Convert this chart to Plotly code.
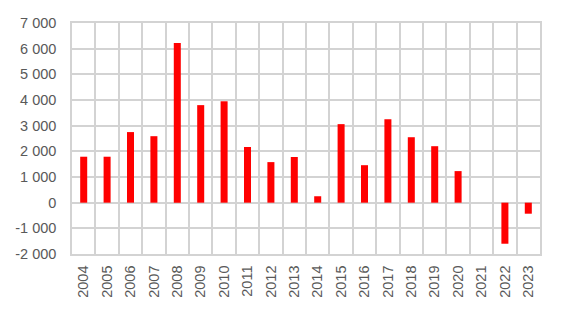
import plotly.graph_objects as go

years = [str(y) for y in range(2004, 2024)]
values = [1790, 1790, 2750, 2590, 6220, 3800, 3950, 2170, 1580, 1780,
          250, 3060, 1460, 3250, 2550, 2200, 1230, 0, -1600, -430]
y_tickvals = [-2000, -1000, 0, 1000, 2000, 3000, 4000, 5000, 6000, 7000]
y_ticktext = ["-2 000", "-1 000", "0", "1 000", "2 000", "3 000", "4 000", "5 000", "6 000", "7 000"]

grid = "#d3d3d3"
font = dict(family="Liberation Sans, Arial, sans-serif", size=14.5, color="#595959")

fig = go.Figure(go.Bar(x=years, y=values, marker=dict(color="#ff0000", line=dict(width=0))))
fig.update_layout(
    width=562, height=312,
    margin=dict(l=72, r=22, t=23, b=58),
    paper_bgcolor="white", plot_bgcolor="white",
    bargap=0.7, showlegend=False, font=font,
)
fig.update_xaxes(
    type="category", tickson="boundaries", showgrid=True, gridcolor=grid, gridwidth=1.5,
    showline=True, linecolor=grid, linewidth=1.5, mirror=True,
    tickangle=-90, ticks="", ticklen=0, ticklabelstandoff=4, tickfont=font,
)
fig.update_yaxes(
    range=[-2000, 7000], tickvals=y_tickvals, ticktext=y_ticktext,
    showgrid=True, gridcolor=grid, gridwidth=1.5,
    zeroline=True, zerolinecolor=grid, zerolinewidth=1.5,
    showline=True, linecolor=grid, linewidth=1.5, mirror=True,
    ticks="", ticklabelstandoff=11, tickfont=font,
)
fig.write_html("out.html")
